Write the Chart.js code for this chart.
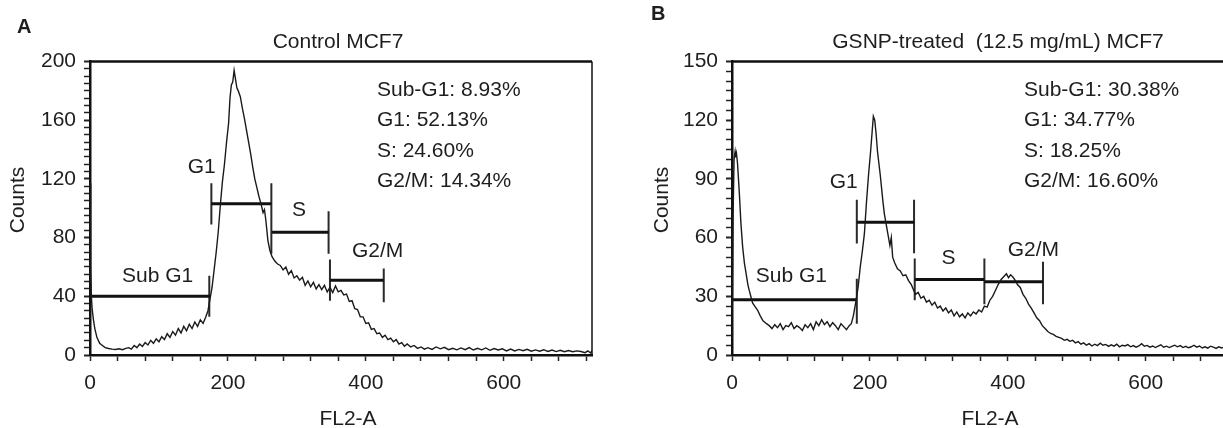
<!DOCTYPE html>
<html>
<head>
<meta charset="utf-8">
<script src="https://cdn.jsdelivr.net/npm/chart.js@4.4.1/dist/chart.umd.min.js"></script>
<style>
  html,body{margin:0;padding:0;background:#fff;overflow:hidden;}
  body{width:1223px;height:428px;position:relative;}
  canvas{position:absolute;top:0;}
  #cellA{left:0;}
  #cellB{left:642px;}
</style>
</head>
<body>
<canvas id="cellA" width="640" height="428"></canvas>
<canvas id="cellB" width="640" height="428"></canvas>
<script>
// control MCF7 histogram (FL2-A channel, counts)
const fl2A = [0,1,2,3,5,7,10,14,18,22,27,32,37,42,47,52,56,60,64,68,72,76,80,84,88,92,96,100,104,108,112,116,120,124,128,132,136,140,144,148,152,156,160,164,168,171,174,177,180,183,186,189,192,195,198,201,203,205,207,209,211,213,215,218,221,224,227,230,233,236,239,242,245,248,251,253,255,258,261,264,268,272,276,280,284,288,292,296,300,304,308,312,316,320,324,328,332,336,340,344,348,352,356,360,364,368,372,376,380,384,388,392,396,400,404,408,412,416,420,424,428,432,436,440,444,448,452,456,460,465,470,475,480,485,490,496,502,508,514,520,526,532,538,544,550,556,562,568,574,580,586,592,598,604,610,616,622,628,634,640,646,652,658,664,670,676,682,688,694,700,706,712,718,722,726,728];
const countsA = [117,60,40,32,24,18,12,8,6.5,5,4.4,4,3.8,4.2,3.6,4.5,5,4,6.5,5,7.5,5.8,8.5,6.8,10,8,11,9,12.5,10.5,14.5,12,16,13.5,18,15,19.5,16.5,21,18,22.5,19.5,24,21.5,26,30,38,46,58,70,84,102,118,130,145,158,175,184,186,194,188,182,180,176,168,161,153,145,137,128,120,114,108,103,97,99,92,78,71,67,64,62,61,58,60,55,57.5,52.5,54,51,53,47.5,50.5,46.5,49.5,45,48,44.5,47.5,43,46,42.5,47,43,44,41,41.5,36.5,37,31.5,31,26,26,21.5,22,17.5,18,14.5,15,12,13.5,10.5,11.5,9,10.5,7.5,8.5,6,7.5,5.5,6.5,4.5,5.5,4,5,3.8,5.5,4.2,5.2,3.6,4.6,3.5,4.8,3.6,5,3.4,4.6,3.5,4.8,3.2,4.4,3.4,4.2,2.8,4,2.8,3.8,2.9,3.9,2.6,3.5,2.6,3.6,2.4,3.4,2.3,3.2,2.2,3,2.2,2.8,2.4,1.6,2.8,1.4,3];

// GSNP-treated MCF7 histogram
const fl2B = [0,1.5,3,4.5,5.5,6.5,8,10.6,13,15.5,18,20.3,23,25,28,30,33,37,41,45,50,54,58,62,66,70,74,78,82,86,90,94,98,102,106,110,114,118,122,126,130,134,138,142,146,150,154,158,162,166,170,173,176,180,183,186,189,192,195,198,201,203,205,207,209,211,213,215,217,219,221,224,227,229,231,233,236,240,244,248,252,256,260,263,266,270,274,278,282,286,290,294,298,302,306,310,314,318,322,326,330,334,338,342,346,350,354,358,362,366,370,374,378,382,386,390,394,398,401,404,407,410,414,418,422,426,430,434,438,442,446,450,454,458,462,466,470,474,478,482,486,490,494,498,502,506,510,514,518,522,526,530,534,538,542,546,550,554,558,562,566,570,574,578,582,586,590,594,598,602,606,610,614,618,622,626,630,634,638,642,646,650,654,658,662,666,670,674,678,682,686,690,694,698,702,706,710,716,722,728];
const countsB = [8,70,100,104,101,103,98,83,67,55,47,42,36,33,29,26.5,25,23,20,17.5,16,15,13.5,15.5,14,16,13,15,14.5,16.5,13.5,15,14,12.5,15.5,14,16,13,17,15,18,15.5,17,14.5,16.5,15,13,16,14.5,13,15,16,20,28,35,45,53,62,78,92,104,113,122,120,113,104,98,92,85,78,72,66,60,56,60,50,47,44,43,40.5,41,38,36,33.5,31,32,29,30,27,28,25.5,27,24,25,22.5,24,21.5,23,20,22,19.5,21,19,21.5,20,22,21,23,22,25,24.5,28,30,33,36,38.5,40,41.5,39.5,41,40,38.5,36,34.5,31,29,26,24,21.5,19,17.5,15,13.5,12,11,10.5,9.5,9,8.5,7.5,8,7,7.5,6.2,6.8,5.5,6.2,5,5.8,4.6,5.5,4.8,6,5,5.4,4.4,5.2,4.5,5.5,4.2,5,4.6,5.3,4.2,4.8,4,4.6,5.8,4.5,4.9,4,4.6,3.8,4.5,5.2,4,4.5,3.8,4.4,5,4.2,4.8,3.8,4.4,3.7,4.2,5,4,4.6,3.6,4.2,3.5,4.5,4,3.4,4.2,3.6,4.4,3.5,4];

// gates: Sub G1, G1, S, G2/M
const phaseNames = ['Sub G1','G1','S','G2/M'];
const gateStartA = [0,176,264,348];
const gateEndA = [174,263,346,426];
const gateLevelA = [40,103,83.7,51];
const markXA = [173,176,263,346,348,426];
const markLoA = [26,89,69,69,37,36];
const markHiA = [54,117,117,98,65,59];
const labelXA = [98,162,303,417];
const labelYA = [53.7,128,99,71];

const gateStartB = [0,181,265,366];
const gateEndB = [181,264,366,451];
const gateLevelB = [28.3,67.9,38.6,37.4];
const markXB = [181,181,264,265,366,451];
const markLoB = [16,57,52,28,26,26];
const markHiB = [39,79.4,79.4,49.3,49.3,47.6];
const labelXB = [86,162,314,437];
const labelYB = [40.3,88.3,49.4,53.7];

const statsA = ['Sub-G1: 8.93%','G1: 52.13%','S: 24.60%','G2/M: 14.34%'];
const statsB = ['Sub-G1: 30.38%','G1: 34.77%','S: 18.25%','G2/M: 16.60%'];

const FONT = "'Liberation Sans', Arial, Helvetica, sans-serif";
const INK = '#1e1e1e';

const panelText = {
  id:'panelText',
  afterDraw(chart, args, o){
    const c = chart.ctx, a = chart.chartArea;
    const sx = chart.scales.x, sy = chart.scales.y;
    c.save();
    // box: top and right edges
    c.strokeStyle = '#111';
    c.lineWidth = 2.5;
    c.beginPath(); c.moveTo(a.left, a.top); c.lineTo(a.right, a.top); c.stroke();
    c.lineWidth = 1.5;
    c.beginPath(); c.moveTo(a.right, a.top); c.lineTo(a.right, a.bottom); c.stroke();

    c.fillStyle = INK;
    c.textBaseline = 'middle';
    c.textAlign = 'left';
    c.font = `bold 20px ${FONT}`;
    c.fillText(o.letter, o.letterX, o.letterY);

    c.font = `21px ${FONT}`;
    c.textAlign = 'center';
    c.fillText(o.title, o.titleX, 42);
    c.fillText('FL2-A', o.xTitleX, 419);

    c.save();
    c.translate(o.yTitleX, 200);
    c.rotate(-Math.PI/2);
    c.fillText('Counts', 0, 0);
    c.restore();

    o.labelX.forEach((x,i)=>{
      c.fillText(phaseNames[i], sx.getPixelForValue(x), sy.getPixelForValue(o.labelY[i]));
    });

    c.textAlign = 'left';
    o.stats.forEach((t,i)=>c.fillText(t, o.statsX, 90 + i*30.5));
    c.restore();
  }
};

function makePanel(id, p){
  const datasets = [{
    data: p.fl2.map((x,i)=>({x, y:p.counts[i]})),
    borderColor:'#1a1a1a', borderWidth:1.4, pointRadius:0, tension:0
  }];
  p.gateStart.forEach((s,i)=>{
    datasets.push({data:[{x:s,y:p.gateLevel[i]},{x:p.gateEnd[i],y:p.gateLevel[i]}],
      borderColor:'#111', borderWidth:3, pointRadius:0});
  });
  p.markX.forEach((x,i)=>{
    datasets.push({data:[{x,y:p.markLo[i]},{x,y:p.markHi[i]}],
      borderColor:'#2a2a2a', borderWidth:2, pointRadius:0});
  });

  return new Chart(document.getElementById(id), {
    type:'line',
    data:{datasets},
    plugins:[panelText],
    options:{
      responsive:false,
      animation:false,
      layout:{padding:{left:0, top:61.5, right:48, bottom:0}},
      plugins:{
        legend:{display:false},
        tooltip:{enabled:false},
        panelText:p.text
      },
      scales:{
        x:{
          type:'linear', min:0, max:728,
          afterFit(s){ s.height = 73; },
          border:{display:true, color:'#111', width:2.5},
          grid:{drawOnChartArea:false, drawTicks:true, tickLength:6, tickColor:'#222', tickWidth:1.5},
          ticks:{stepSize:40, includeBounds:false, autoSkip:false, maxRotation:0, padding:10,
            color:INK, font:{family:FONT, size:21},
            callback:v => v % 200 === 0 ? v : ''}
        },
        y:{
          min:0, max:p.yMax,
          afterFit(s){ s.width = 90; },
          border:{display:true, color:'#111', width:2.5},
          grid:{drawOnChartArea:false, drawTicks:true, tickLength:6, tickColor:'#222',
            tickWidth:ctx => ctx.tick && ctx.tick.value % p.yMajor === 0 ? 2 : 1.5},
          ticks:{stepSize:5, autoSkip:false, padding:8,
            color:INK, font:{family:FONT, size:21},
            callback:v => v % p.yMajor === 0 ? v : ''}
        }
      }
    }
  });
}

makePanel('cellA', {
  fl2:fl2A, counts:countsA, yMax:200, yMajor:40,
  gateStart:gateStartA, gateEnd:gateEndA, gateLevel:gateLevelA,
  markX:markXA, markLo:markLoA, markHi:markHiA,
  text:{letter:'A', letterX:17, letterY:27, title:'Control MCF7', titleX:338,
    xTitleX:348, yTitleX:18, labelX:labelXA, labelY:labelYA, stats:statsA, statsX:377}
});

makePanel('cellB', {
  fl2:fl2B, counts:countsB, yMax:150, yMajor:30,
  gateStart:gateStartB, gateEnd:gateEndB, gateLevel:gateLevelB,
  markX:markXB, markLo:markLoB, markHi:markHiB,
  text:{letter:'B', letterX:9, letterY:14, title:'GSNP-treated  (12.5 mg/mL) MCF7', titleX:356,
    xTitleX:348, yTitleX:20, labelX:labelXB, labelY:labelYB, stats:statsB, statsX:382}
});
</script>
</body>
</html>
